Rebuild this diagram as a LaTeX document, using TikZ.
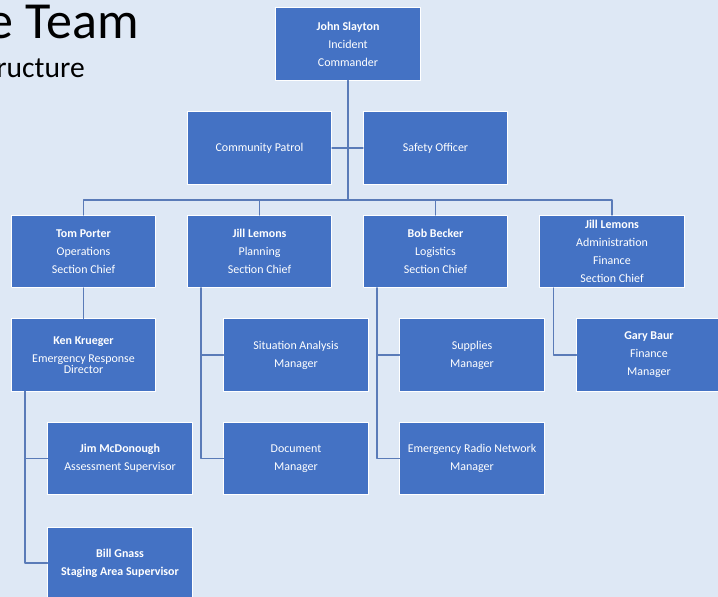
\documentclass[tikz,border=0pt]{standalone}
\usepackage{fontspec}
\setmainfont{Carlito}
\definecolor{bgblue}{HTML}{DEE8F5}
\definecolor{boxblue}{HTML}{4472C4}
\definecolor{linkblue}{HTML}{5A7BB8}
\begin{document}
\begin{tikzpicture}[x=0.025cm, y=-0.025cm, font=\fontsize{8.5}{12.8}\selectfont, line join=round, line cap=round,
	box/.style={draw=white, line width=0.7pt, fill=boxblue, text=white, align=center, inner sep=0pt,
		minimum width=3.6cm, minimum height=1.8cm},
	link/.style={draw=linkblue, line width=0.9pt}]
	\useasboundingbox (0,0) rectangle (718,597);
	\clip (0,0) rectangle (718,597);
	\fill[bgblue] (0,0) rectangle (718,597);
	% title, cut off at the left edge
	\node[anchor=base east, inner sep=0pt, font=\fontsize{37}{40}\selectfont] (title) at (139,39) {e Team};
	\node[anchor=base east, inner sep=0pt, font=\fontsize{21}{24}\selectfont] (subtitle) at (85,78) {ructure};
	% boxes
	\node[box] (john) at (348,44) {\textbf{John Slayton}\\Incident\\Commander};
	\node[box] (patrol) at (259.5,148) {Community Patrol};
	\node[box] (safety) at (435.5,148) {Safety Officer};
	\node[box] (tom) at (83.5,251.5) {\textbf{Tom Porter}\\Operations\\Section Chief};
	\node[box] (plan) at (259.5,251.5) {\textbf{Jill Lemons}\\Planning\\Section Chief};
	\node[box] (logi) at (435.5,251.5) {\textbf{Bob Becker}\\Logistics\\Section Chief};
	\node[box] (admin) at (612,251.5) {\textbf{Jill Lemons}\\Administration\\Finance\\Section Chief};
	\node[box] (ken) at (83.5,355) {\textbf{Ken Krueger}\\Emergency Response\\[-5pt]Director};
	\node[box] (situ) at (296,355) {Situation Analysis\\Manager};
	\node[box] (supp) at (472,355) {Supplies\\Manager};
	\node[box] (gary) at (649,355) {\textbf{Gary Baur}\\Finance\\Manager};
	\node[box] (jim) at (120,458.5) {\textbf{Jim McDonough}\\Assessment Supervisor};
	\node[box] (docu) at (296,458.5) {Document\\Manager};
	\node[box] (radio) at (472,458.5) {Emergency Radio Network\\Manager};
	\node[box] (bill) at (120,563) {\textbf{Bill Gnass}\\\textbf{Staging Area Supervisor}};
	% connectors
	\coordinate (hub) at (348,200);
	\draw[link] (john) -- (hub);
	\draw[link] (patrol) -- (safety);
	\draw[link] (tom.north) |- (hub) -| (admin.north);
	\foreach \n in {plan,logi}
	\draw[link] (\n.north) -- (\n.north |- hub);
	\draw[link] (tom) -- (ken);
	\foreach \p/\c in {ken/jim,ken/bill,plan/situ,plan/docu,logi/supp,logi/radio,admin/gary}
	\draw[link] (\p.south west) ++(14,0) |- (\c.west);
\end{tikzpicture}
\end{document}
